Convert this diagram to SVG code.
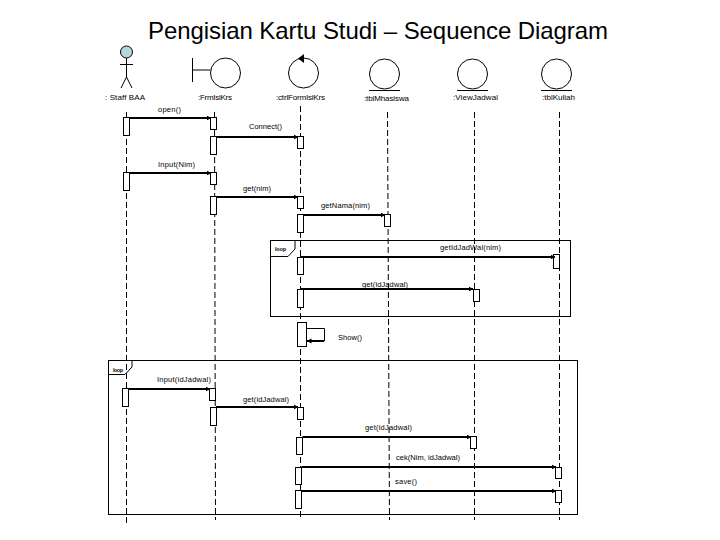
<svg xmlns="http://www.w3.org/2000/svg" width="720" height="540" viewBox="0 0 720 540">
<style>
text{font-family:"Liberation Sans",Arial,sans-serif;fill:#000}
.t{font-size:24px}
.n{font-size:8px}
.m{font-size:7.5px}
.l{font-size:5.5px;font-weight:bold}
.s{fill:none;stroke:#000;stroke-width:1}
.life{fill:none;stroke:#000;stroke-width:1;stroke-dasharray:6 3}
.act{fill:#fff;stroke:#000;stroke-width:1}
.msg{fill:none;stroke:#000;stroke-width:2;marker-end:url(#ah)}
</style>
<defs>
<marker id="ah" markerUnits="userSpaceOnUse" markerWidth="6" markerHeight="6" refX="4.5" refY="3" orient="auto"><path d="M0 0.5L5 3L0 5.5z" fill="#000"/></marker>
</defs>
<rect width="720" height="540" fill="#fff"/>
<text class="t" x="148" y="39" textLength="460">Pengisian Kartu Studi – Sequence Diagram</text>

<g id="staff">
<line class="life" x1="126.5" y1="112" x2="126.5" y2="525"/>
<circle cx="126.5" cy="52" r="6" fill="#b5d8dc" stroke="#000"/>
<path class="s" d="M126.5 58V77M120 64.500H133M126.500 77L121 88M126.500 77L132 88"/>
<text class="n" x="105" y="100" textLength="40">: Staff BAA</text>
<rect class="act" x="123.500" y="117.500" width="6" height="18"/>
<rect class="act" x="123.500" y="172.500" width="6" height="18"/>
<rect class="act" x="122.500" y="388.500" width="6" height="18"/>
</g>

<g id="form">
<line class="life" x1="214.500" y1="112" x2="215.500" y2="520"/>
<circle class="s" cx="225.500" cy="73" r="15"/>
<path class="s" d="M192.500 58V82M192.500 70H210.500"/>
<text class="n" x="198" y="100" textLength="34">:FrmIsiKrs</text>
<rect class="act" x="210.500" y="117.500" width="6" height="12"/>
<rect class="act" x="210.500" y="136.500" width="6" height="18"/>
<rect class="act" x="210.500" y="172.500" width="6" height="12"/>
<rect class="act" x="210.500" y="196.500" width="6" height="18"/>
<rect class="act" x="209.500" y="388.500" width="6" height="12"/>
<rect class="act" x="210.500" y="407.500" width="6" height="18"/>
</g>

<g id="ctrl">
<line class="life" x1="300.500" y1="106" x2="300.500" y2="520"/>
<circle class="s" cx="303.500" cy="73" r="15"/>
<path d="M298 58.500L304 54V63z" fill="#000"/>
<text class="n" x="276" y="100" textLength="49">:ctrlFormIsiKrs</text>
<rect class="act" x="297.500" y="136.500" width="6" height="12"/>
<rect class="act" x="297.500" y="196.500" width="6" height="12"/>
<rect class="act" x="297.500" y="214.500" width="6" height="18"/>
<rect class="act" x="297.500" y="257.500" width="6" height="17"/>
<rect class="act" x="297.500" y="289.500" width="6" height="18"/>
<rect class="act" x="297.500" y="322.500" width="9" height="24"/>
<rect class="act" x="297.500" y="407.500" width="6" height="12"/>
<rect class="act" x="296.500" y="437.500" width="6" height="17"/>
<rect class="act" x="295.500" y="467.500" width="6" height="17"/>
<rect class="act" x="295.500" y="490.500" width="6" height="18"/>
</g>

<g id="tblMhs">
<line class="life" x1="387.500" y1="112" x2="389.500" y2="520"/>
<circle class="s" cx="384.500" cy="74" r="15"/>
<line class="s" x1="369" y1="90.500" x2="400" y2="90.500"/>
<text class="n" x="364" y="101" textLength="45">:tblMhasiswa</text>
<rect class="act" x="384.500" y="214.500" width="6" height="12"/>
</g>

<g id="view">
<line class="life" x1="474.500" y1="112" x2="474.500" y2="520"/>
<circle class="s" cx="472.500" cy="74" r="15"/>
<line class="s" x1="457" y1="90.500" x2="488" y2="90.500"/>
<text class="n" x="453" y="100" textLength="45">:ViewJadwal</text>
<rect class="act" x="473.500" y="289.500" width="6" height="12"/>
<rect class="act" x="470.500" y="436.500" width="6" height="12"/>
</g>

<g id="tblKuliah">
<line class="life" x1="559.500" y1="112" x2="559.500" y2="520"/>
<circle class="s" cx="556.500" cy="74" r="15"/>
<line class="s" x1="541" y1="90.500" x2="572" y2="90.500"/>
<text class="n" x="542" y="100" textLength="33">:tblKuliah</text>
<rect class="act" x="553.500" y="254.500" width="6" height="14"/>
<rect class="act" x="555.500" y="467.500" width="6" height="11"/>
<rect class="act" x="555.500" y="490.500" width="6" height="12"/>
</g>

<g id="loop1">
<rect class="s" x="270.500" y="240.500" width="300" height="76"/>
<path class="s" d="M270.500 256.500H288L295 249V240.500"/>
<text class="l" x="275" y="251" textLength="11">loop</text>
</g>
<g id="loop2">
<rect class="s" x="108.500" y="360.500" width="469" height="154"/>
<path class="s" d="M108.500 374.500H125L132 367V360.500"/>
<text class="l" x="113" y="372" textLength="10">loop</text>
</g>

<g id="connectors">
<path class="msg" d="M129.500 118H211"/>
<path class="msg" d="M216.500 137H298"/>
<path class="msg" d="M129.500 173H211"/>
<path class="msg" d="M216.500 197H298"/>
<path class="msg" d="M303.500 215H385"/>
<path class="msg" d="M300 257H555"/>
<path class="msg" d="M300 289H473"/>
<path class="s" d="M306.500 328.500H324.500V341"/>
<path class="msg" d="M324 341H307"/>
<path class="msg" d="M128.500 389H210"/>
<path class="msg" d="M216 407H298"/>
<path class="msg" d="M302.500 437H471"/>
<path class="msg" d="M301.500 467H556"/>
<path class="msg" d="M301.500 491H556"/>
<text class="m" x="158" y="112" textLength="23">open()</text>
<text class="m" x="249" y="129" textLength="33">Connect()</text>
<text class="m" x="158" y="167" textLength="37">Input(Nim)</text>
<text class="m" x="243" y="191" textLength="28">get(nim)</text>
<text class="m" x="321" y="208" textLength="49">getNama(nim)</text>
<text class="m" x="440" y="250" textLength="61">getIdJadWal(nim)</text>
<text class="m" x="362" y="287" textLength="46">get(idJadwal)</text>
<text class="m" x="338" y="340" textLength="24">Show()</text>
<text class="m" x="157" y="382" textLength="54">Input(idJadwal)</text>
<text class="m" x="243" y="402" textLength="46">get(idJadwal)</text>
<text class="m" x="365" y="430" textLength="47">get(idJadwal)</text>
<text class="m" x="396" y="460" textLength="64">cek(Nim, idJadwal)</text>
<text class="m" x="395" y="484" textLength="22">save()</text>
</g>
</svg>
